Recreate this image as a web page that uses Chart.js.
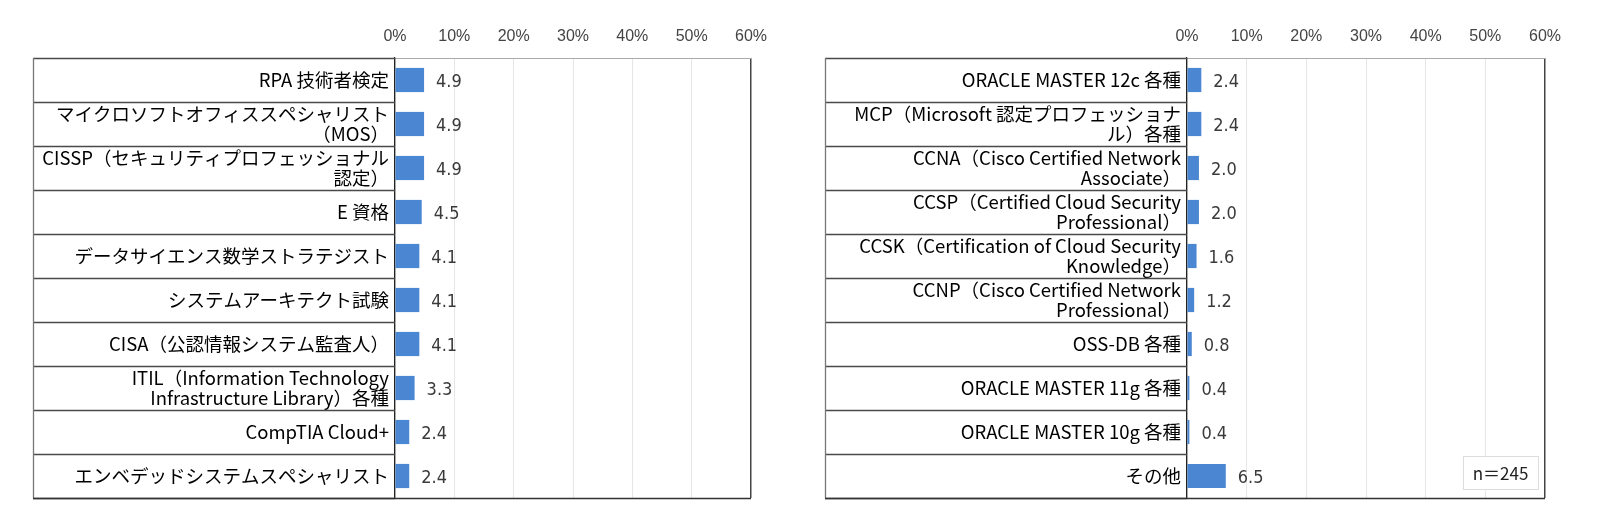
<!DOCTYPE html>
<html>
<head>
<meta charset="utf-8">
<script src="https://cdn.jsdelivr.net/npm/chart.js@4"></script>
<style>
  body { margin: 0; background: #fff; overflow: hidden; }
  #wrap { position: relative; width: 1600px; height: 524px; }
  canvas { position: absolute; top: 0; }
  #leftChart { left: 0; }
  #rightChart { left: 800px; }
</style>
</head>
<body>
<div id="wrap">
  <canvas id="leftChart" width="800" height="524"></canvas>
  <canvas id="rightChart" width="800" height="524"></canvas>
</div>
<script>
// data (percent of respondents, n=245)

const leftLabels = [
    "RPA 技術者検定",
    ["マイクロソフトオフィススペシャリスト", "（MOS）"],
    ["CISSP（セキュリティプロフェッショナル", "認定）"],
    "E 資格",
    "データサイエンス数学ストラテジスト",
    "システムアーキテクト試験",
    "CISA（公認情報システム監査人）",
    ["ITIL（Information Technology", "Infrastructure Library）各種"],
    "CompTIA Cloud+",
    "エンベデッドシステムスペシャリスト"
];
const leftValues = [4.9, 4.9, 4.9, 4.5, 4.1, 4.1, 4.1, 3.3, 2.4, 2.4];

const rightLabels = [
    "ORACLE MASTER 12c 各種",
    ["MCP（Microsoft 認定プロフェッショナ", "ル）各種"],
    ["CCNA（Cisco Certified Network", "Associate）"],
    ["CCSP（Certified Cloud Security", "Professional）"],
    ["CCSK（Certification of Cloud Security", "Knowledge）"],
    ["CCNP（Cisco Certified Network", "Professional）"],
    "OSS-DB 各種",
    "ORACLE MASTER 11g 各種",
    "ORACLE MASTER 10g 各種",
    "その他"
];
const rightValues = [2.4, 2.4, 2.0, 2.0, 1.6, 1.2, 0.8, 0.4, 0.4, 6.5];

const xTicks = [0, 10, 20, 30, 40, 50, 60];
const sampleNote = "n＝245";

Chart.defaults.font.family = "'Noto Sans CJK JP', 'Noto Sans', sans-serif";

// draws the label "table": left edge, row lines and the bottom line
const tableLines = {
    id: "tableLines",
    afterDraw(chart) {
        const ctx = chart.ctx;
        const y = chart.scales.y;
        const area = chart.chartArea;
        const n = chart.data.labels.length;
        ctx.save();
        ctx.lineWidth = 1.5;
        ctx.strokeStyle = "#4a4a4a";
        for (let i = 0; i <= n; i++) {
            const py = Math.round(y.getPixelForValue(i - 0.5)) + 0.5;
            ctx.beginPath();
            ctx.moveTo(y.left, py);
            ctx.lineTo(area.left, py);
            ctx.stroke();
        }
        ctx.lineWidth = 1.3;
        ctx.strokeStyle = "#777";
        ctx.beginPath();
        ctx.moveTo(y.left + 0.5, area.top);
        ctx.lineTo(y.left + 0.5, area.bottom);
        ctx.stroke();
        ctx.strokeStyle = "#333";
        ctx.beginPath();
        ctx.moveTo(y.left, area.bottom + 0.5);
        ctx.lineTo(area.right, area.bottom + 0.5);
        ctx.stroke();
        ctx.restore();
    }
};

// value next to each bar
const barValues = {
    id: "barValues",
    afterDatasetsDraw(chart) {
        const ctx = chart.ctx;
        const meta = chart.getDatasetMeta(0);
        const values = chart.data.datasets[0].data;
        ctx.save();
        ctx.font = "18px 'Liberation Sans Narrow', 'DejaVu Sans Condensed', sans-serif";
        ctx.fillStyle = "#3a3a3a";
        ctx.textAlign = "left";
        ctx.textBaseline = "middle";
        meta.data.forEach((bar, i) => {
            ctx.fillText(values[i].toFixed(1), bar.x + 12, bar.y + 2);
        });
        ctx.restore();
    }
};

// little "n=" box in the lower right corner of the second chart
const noteBox = {
    id: "noteBox",
    afterDraw(chart, args, opts) {
        if (!opts.text) return;
        const ctx = chart.ctx;
        const area = chart.chartArea;
        const w = 75, h = 33;
        const bx = area.right - 7 - w;
        const by = area.bottom - 9 - h;
        ctx.save();
        ctx.fillStyle = "#fff";
        ctx.fillRect(bx, by, w, h);
        ctx.strokeStyle = "#ddd";
        ctx.lineWidth = 1;
        ctx.strokeRect(bx + 0.5, by + 0.5, w, h);
        ctx.font = "17px 'Noto Sans CJK JP', sans-serif";
        ctx.fillStyle = "#222";
        ctx.textAlign = "center";
        ctx.textBaseline = "middle";
        ctx.fillText(opts.text, bx + w / 2, by + h / 2 + 1);
        ctx.restore();
    }
};

function makeChart(id, labels, values, pad, labelWidth, note) {
    return new Chart(id, {
        type: "bar",
        data: {
            labels: labels,
            datasets: [{
                data: values,
                backgroundColor: "#4a86d1",
                categoryPercentage: 1,
                barPercentage: 0.55
            }]
        },
        options: {
            indexAxis: "y",
            responsive: false,
            animation: false,
            layout: { padding: pad },
            plugins: {
                legend: { display: false },
                tooltip: { enabled: false },
                noteBox: { text: note }
            },
            scales: {
                x: {
                    position: "top",
                    min: 0,
                    max: 60,
                    afterBuildTicks: (axis) => {
                        axis.ticks = xTicks.map(v => ({ value: v }));
                    },
                    afterFit: (axis) => { axis.height = 58; },
                    ticks: {
                        callback: (v) => v + "%",
                        font: { family: "'Liberation Sans', sans-serif", size: 16 },
                        color: "#444",
                        padding: 12,
                        maxRotation: 0
                    },
                    grid: {
                        drawTicks: false,
                        color: (c) => c.tick && c.tick.value === 60 ? "#444" : "#e6e6e6",
                        lineWidth: (c) => c.tick && c.tick.value === 60 ? 1.5 : 1
                    },
                    border: { display: true, color: "#aaa" }
                },
                y: {
                    afterFit: (axis) => { axis.width = labelWidth; },
                    ticks: {
                        autoSkip: false,
                        font: { size: 18.5, lineHeight: 1.12 },
                        color: "#000",
                        padding: 6
                    },
                    grid: { display: false, drawTicks: false },
                    border: { display: true, color: "#222", width: 1.3 }
                }
            }
        },
        plugins: [tableLines, barValues, noteBox]
    });
}

const leftChart = makeChart("leftChart", leftLabels, leftValues,
    { left: 33, right: 49, top: 0, bottom: 26 }, 362, null);

const rightChart = makeChart("rightChart", rightLabels, rightValues,
    { left: 25, right: 55, top: 0, bottom: 26 }, 362, sampleNote);
</script>
</body>
</html>
